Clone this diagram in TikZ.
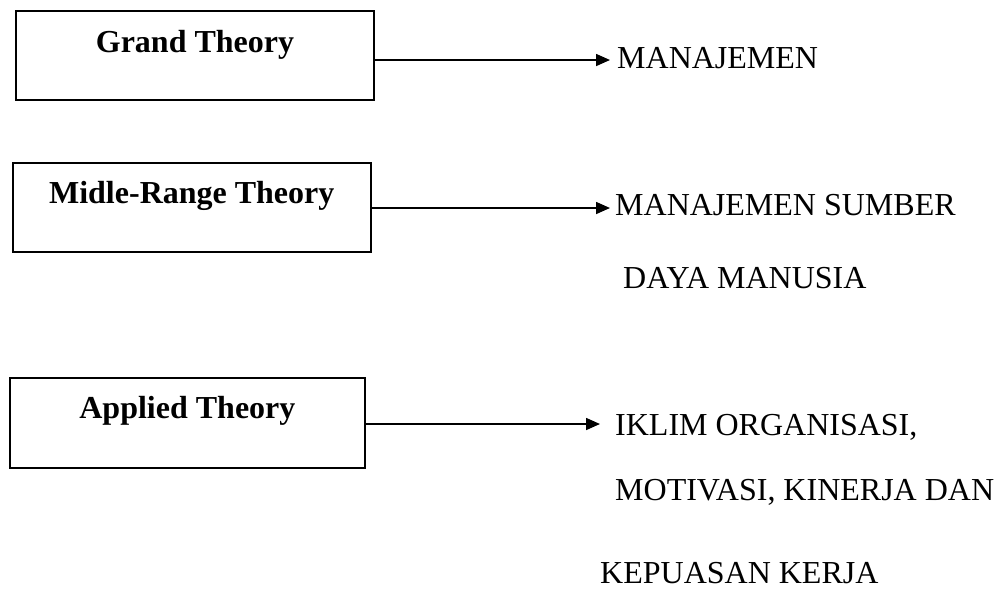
\documentclass[tikz,border=0pt]{standalone}
\usepackage{fontspec}
\setmainfont{Liberation Serif}
\usetikzlibrary{arrows.meta}
\begin{document}
\begin{tikzpicture}[x=1pt,y=-1pt,
  every node/.style={font=\fontsize{32}{38}\selectfont, inner sep=0pt},
  theorybox/.style={draw, line width=2pt, anchor=base, font=\fontsize{32}{38}\selectfont\bfseries},
  item/.style={anchor=base west},
  arr/.style={line width=1.6pt, -{Triangle[length=14pt,width=12pt]}}]
\useasboundingbox (0,0) rectangle (1004,590);

% theory level boxes
\node[theorybox, minimum width=358pt, text height=41pt, text depth=48pt]
  (gt) at (195,52) {Grand Theory};
\node[theorybox, minimum width=357.5pt, text height=40pt, text depth=49pt]
  (mr) at (191.75,203) {Midle-Range Theory};
\node[theorybox, minimum width=354.2pt, text height=40pt, text depth=50pt]
  (ap) at (187.4,418) {Applied Theory};

% fields each level points to
\node[item] (m1)  at (617,68)  {MANAJEMEN};
\node[item] (m2a) at (615,215) {MANAJEMEN SUMBER};
\node[item] (m2b) at (623,288) {DAYA MANUSIA};
\node[item] (m3a) at (615,435) {IKLIM ORGANISASI,};
\node[item] (m3b) at (615,500) {MOTIVASI, KINERJA DAN};
\node[item] (m3c) at (600,583) {KEPUASAN KERJA};

% arrow heights
\coordinate (a1) at (0,60);
\coordinate (a2) at (0,208);
\coordinate (a3) at (0,424);

\draw[arr, shorten >=7pt]  (gt.east |- a1) -- (m1.west |- a1);
\draw[arr, shorten >=5pt]  (mr.east |- a2) -- (m2a.west |- a2);
\draw[arr, shorten >=15pt] (ap.east |- a3) -- (m3a.west |- a3);
\end{tikzpicture}
\end{document}
